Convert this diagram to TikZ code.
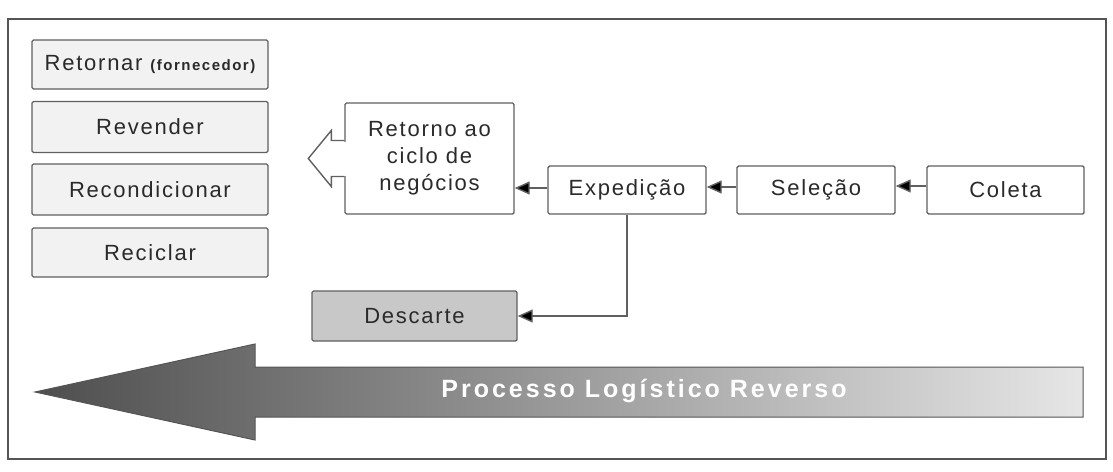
\documentclass[tikz,border=0pt]{standalone}
\usepackage{fontspec}
\setmainfont{Liberation Sans}[LetterSpace=8]
\newfontfamily\bigarrowfont{Liberation Sans}[LetterSpace=12]
\newfontfamily\smallfont{Liberation Sans}[LetterSpace=10]
\definecolor{txt}{HTML}{2A2A2A}
\definecolor{bord}{HTML}{606060}
\definecolor{lightbox}{HTML}{F2F2F2}
\definecolor{descfill}{HTML}{C8C8C8}
\definecolor{arrdark}{HTML}{4E4E4E}
\definecolor{arrlight}{HTML}{E6E6E6}
\definecolor{framec}{HTML}{555555}
\tikzset{
  base/.style={draw=bord, line width=1.4pt, text=txt, font=\fontsize{22}{27}\selectfont, align=center, inner sep=0pt, rounded corners=1.5pt},
  leftbox/.style={base, fill=lightbox, minimum width=236pt},
  flowbox/.style={base, fill=white, minimum height=48pt},
  conn/.style={draw=bord, line width=1.4pt, -{Triangle[length=15pt,width=13pt,fill=black]}},
}
\usetikzlibrary{arrows.meta}
\begin{document}
\begin{tikzpicture}[x=1pt,y=-1pt]
\useasboundingbox (0,0) rectangle (1113,471);
\fill[white] (0,0) rectangle (1113,471);
\draw[framec, line width=2pt] (8,19) rectangle (1106,459);

% left column
\node[leftbox, minimum height=49pt] (ret1) at (150,64.5) {Retornar {\smallfont\bfseries\fontsize{15}{17}\selectfont (fornecedor)}};
\node[leftbox, minimum height=51pt] (rev) at (150,127) {Revender};
\node[leftbox, minimum height=51pt] (rec) at (150,189.5) {Recondicionar};
\node[leftbox, minimum height=49pt] (recic) at (150,252.5) {Reciclar};

% flow
\node[base, fill=white, minimum width=169pt, minimum height=111pt] (ret) at (429.5,158.5) {Retorno ao\\ciclo de\\negócios};
\node[flowbox, minimum width=158pt] (exp) at (627,190) {Expedição};
\node[flowbox, minimum width=158pt] (sel) at (816,190) {Seleção};
\node[flowbox, minimum width=157pt] (col) at (1005.5,190) {Coleta};
\node[base, fill=descfill, minimum width=205pt, minimum height=50pt] (desc) at (414.5,316) {Descarte};

% hollow arrow out of Retorno
\draw[white, line width=3pt] (ret.west) ++(0,-17) -- ++(0,34);
\draw[bord, line width=1.4pt, line join=miter] (ret.west) ++(0,-18) -- ++(-13,0) -- ++(0,-10) -- ++(-23,28) -- ++(23,28) -- ++(0,-10) -- ++(13,0);

% connectors
\draw[conn] ([yshift=4pt]col.west) -- ([yshift=4pt]sel.east);
\draw[conn] ([yshift=3pt]sel.west) -- ([yshift=3pt]exp.east);
\draw[conn] ([yshift=2pt]exp.west) -- ([yshift=2pt]exp.west -| ret.east);
\draw[conn] (exp.south) |- (desc.east);

% big arrow
\coordinate (tip) at (35,392);
\coordinate (tail) at (1083,392);
\draw[draw=framec, line width=1pt, left color=arrdark, right color=arrlight, line join=miter]
  (tip) -- (255,344) -- (255,367) -- (1083,367) -- (tail |- 0,417) -- (255,417) -- (255,440) -- cycle;
\node[text=white, font=\bigarrowfont\bfseries\fontsize{25}{29}\selectfont, inner sep=0pt] (lbl) at (644,391) {Processo Logístico Reverso};
\end{tikzpicture}
\end{document}
